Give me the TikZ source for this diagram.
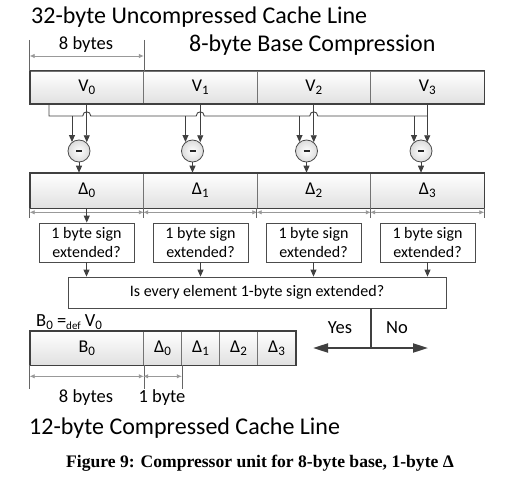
\documentclass[tikz,border=0pt]{standalone}
\usepackage{fontspec}
\setmainfont{Carlito}
\newfontfamily\capfont{Liberation Serif}
\usetikzlibrary{arrows.meta,calc}
\newcommand{\lsub}[1]{\raisebox{-0.35ex}{\fontsize{13}{13}\selectfont #1}}
\newcommand{\dsub}[1]{\raisebox{-0.4ex}{\fontsize{11}{11}\selectfont #1}}
\begin{document}
\begin{tikzpicture}[x=1pt,y=-1pt,
  dk/.style={draw=black!75, line width=0.9pt},
  arr/.style={-{Triangle[width=6pt,length=7pt]}, draw=black!75, line width=0.9pt},
  bigarr/.style={-{Triangle[width=9pt,length=15pt]}, draw=black!75, line width=2pt},
  dim/.style={{Latex[length=5pt,width=4.5pt]}-{Latex[length=5pt,width=4.5pt]}, draw=black!40, line width=0.8pt},
  tick/.style={draw=black!60, line width=0.6pt},
  cell/.style={rectangle, inner sep=0pt, top color=white, bottom color=black!12, draw=black!55, line width=0.6pt, font=\fontsize{18}{18}\selectfont},
  rowframe/.style={draw=black!75, line width=1.6pt},
  sbox/.style={rectangle, draw=black!70, line width=0.8pt, fill=white, align=center, inner sep=0pt, minimum width=95pt, minimum height=39pt, font=\fontsize{16}{19}\selectfont},
  subn/.style={circle, draw=black!70, line width=0.8pt, inner color=white, outer color=black!14, minimum size=22pt, inner sep=0pt},
  bigt/.style={font=\fontsize{24}{24}\selectfont, inner sep=0pt},
  midt/.style={font=\fontsize{18.5}{18.5}\selectfont, inner sep=0pt},
]
\useasboundingbox (0,0) rectangle (505,481);

% titles
\node[bigt, anchor=west] (t1) at (31,17) {32-byte Uncompressed Cache Line};
\node[bigt, anchor=west] (t2) at (189,45) {8-byte Base Compression};
\node[midt] (lb8) at (86,45) {8 bytes};

% V row
\foreach \i/\x in {0/86.75,1/200.25,2/313.75,3/427.25}
  \node[cell, minimum width=113.5pt, minimum height=33pt] (v\i) at (\x,87.5) {V\lsub{\i}};
\draw[rowframe] (v0.north west) rectangle (v3.south east);

% top dimension
\coordinate (ta) at (30,40);
\coordinate (da) at (30,56);
\draw[tick] (v0.north west |- ta) -- (v0.north west);
\draw[tick] (v0.north east |- ta) -- (v0.north east);
\draw[dim] (v0.north west |- da) -- (v0.north east |- da);

% subtractors
\foreach \i/\x in {0/79,1/192.5,2/306.5,3/421}
  \node[subn] (c\i) at (\x,151) {\color{black!85}\rule{6pt}{2.6pt}};

% bus
\coordinate (busl) at (49,116);
\draw[dk] (v0.south -| busl) -- (busl)
  -- (82.75,116) .. controls (82.75,110.5) and (90.75,110.5) .. (90.75,116)
  -- (196.25,116) .. controls (196.25,110.5) and (204.25,110.5) .. (204.25,116)
  -- (309.75,116) .. controls (309.75,110.5) and (317.75,110.5) .. (317.75,116)
  -- (v3.south |- busl);

\foreach \i in {0,1,2,3}{
  \draw[arr] (c\i.128 |- busl) -- (c\i.128);
  \draw[arr] (v\i.south) -- (c\i.50 -| v\i.south);
}

% Delta row
\foreach \i/\x in {0/86.75,1/200.25,2/313.75,3/427.25}
  \node[cell, minimum width=113.5pt, minimum height=35pt] (d\i) at (\x,190.5) {Δ\lsub{\i}};
\draw[rowframe] (d0.north west) rectangle (d3.south east);
\foreach \i in {0,1,2,3}
  \draw[arr] (c\i.south) -- (c\i.south |- d\i.north);

% Delta dims
\foreach \i in {0,1,2,3}{
  \draw[tick] (d\i.south west) -- ++(0,10);
  \draw[dim] ($(d\i.south west)+(0,4)$) -- ($(d\i.south east)+(0,4)$);
}
\draw[tick] (d3.south east) -- ++(0,10);

% sign boxes
\foreach \i/\x in {0/86.5,1/200.5,2/313.5,3/427.5}
  \node[sbox] (s\i) at (\x,242.5) {1 byte sign\\extended?};
\draw[arr] (d0.south) -- (d0.south |- s0.north);

% big box
\node[sbox, minimum width=378pt, minimum height=31pt] (big) at (257,292.5) {Is every element 1-byte sign extended?};
\foreach \i in {0,1,2,3}
  \draw[arr] (s\i.south) -- (s\i.south |- big.north);

% yes / no
\coordinate (yn) at (371,348);
\coordinate (yes) at (313,348);
\coordinate (no) at (428,348);
\draw[draw=black!75, line width=1.3pt] (big.south -| yn) -- (yn);
\draw[bigarr] (yn) -- (yes);
\draw[bigarr] (yn) -- (no);
\node[midt] (yest) at (340,328) {Yes};
\node[midt] (not) at (397,328) {No};

% compressed line
\node[midt, anchor=west] (bdef) at (36,322) {B\lsub{0} =\dsub{def} V\lsub{0}};
\node[cell, minimum width=113.5pt, minimum height=34pt] (b0) at (86.75,348) {B\lsub{0}};
\foreach \i/\x in {0/162.5,1/200.5,2/238.5,3/276.5}
  \node[cell, minimum width=38pt, minimum height=34pt] (e\i) at (\x,348) {Δ\lsub{\i}};
\draw[rowframe] (b0.north west) rectangle (e3.south east);

% bottom dims
\draw[tick] (b0.south west) -- ++(0,24);
\draw[tick] (b0.south east) -- ++(0,24);
\draw[tick] (e0.south east) -- ++(0,24);
\draw[dim] ($(b0.south west)+(0,11)$) -- ($(b0.south east)+(0,11)$);
\draw[dim] ($(e0.south west)+(0,11)$) -- ($(e0.south east)+(0,11)$);
\node[midt] (lb8b) at (86,398) {8 bytes};
\node[midt] (lb1) at (162,398) {1 byte};

\node[bigt, anchor=west] (t3) at (29,428) {12-byte Compressed Cache Line};
\node[inner sep=0pt, font=\fontsize{17.6}{17.6}\selectfont\capfont\bfseries] (cap) at (260,463) {Figure 9: Compressor unit for 8-byte base, 1-byte Δ};
\end{tikzpicture}
\end{document}
